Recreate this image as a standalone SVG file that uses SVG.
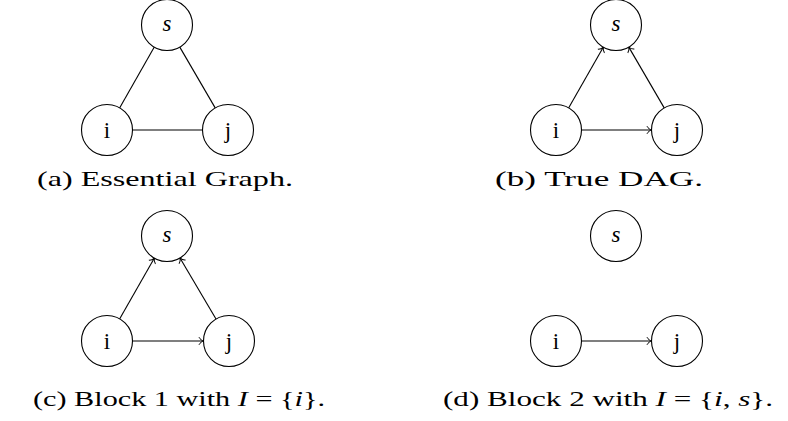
<svg xmlns="http://www.w3.org/2000/svg" width="788" height="421" viewBox="0 0 788 421">
<style>
.n{fill:#fff;stroke:#000;stroke-width:1.1}
.e{fill:none;stroke:#000;stroke-width:1.1}
.a{marker-end:url(#arr)}
.t{font-family:"Liberation Serif","DejaVu Serif",serif;font-size:23px;fill:#000;text-anchor:middle}
.it{font-style:italic}
.c{font-family:"Liberation Serif","DejaVu Serif",serif;font-size:22px;fill:#000}
</style>
<defs>
<marker id="arr" markerWidth="10" markerHeight="10" viewBox="-6 -5 8 10" refX="0" refY="0" orient="auto" markerUnits="userSpaceOnUse">
<path d="M-4.5,-3.8 C-3.5,-1.6 -1.2,-0.4 0,0 C-1.2,0.4 -3.5,1.6 -4.5,3.8" fill="none" stroke="#000" stroke-width="1"/>
</marker>
</defs>
<g id="connectors">
<line class="e" x1="154.3" y1="47.1" x2="119.6" y2="107.9"/>
<line class="e" x1="179.8" y1="47.1" x2="215.2" y2="107.9"/>
<line class="e" x1="132.5" y1="130" x2="202.5" y2="130"/>
<line class="e a" x1="568.6" y1="107.9" x2="603.4" y2="47.1"/>
<line class="e a" x1="664.2" y1="107.9" x2="628.8" y2="47.1"/>
<line class="e a" x1="581.5" y1="130" x2="651.5" y2="130"/>
<line class="e a" x1="119.6" y1="318.9" x2="154.4" y2="258.1"/>
<line class="e a" x1="216" y1="319" x2="180" y2="258"/>
<line class="e a" x1="132.5" y1="341" x2="203.5" y2="341"/>
<line class="e a" x1="581.5" y1="341" x2="651.5" y2="341"/>
</g>
<g id="a_s"><circle class="n" cx="167" cy="25" r="25.5"/><text class="t it" x="167" y="31">s</text></g>
<g id="a_i"><circle class="n" cx="107" cy="130" r="25.5"/><text class="t" x="107" y="138">i</text></g>
<g id="a_j"><circle class="n" cx="228" cy="130" r="25.5"/><text class="t" x="228" y="138">j</text></g>
<g id="b_s"><circle class="n" cx="616" cy="25" r="25.5"/><text class="t it" x="616" y="31">s</text></g>
<g id="b_i"><circle class="n" cx="556" cy="130" r="25.5"/><text class="t" x="556" y="138">i</text></g>
<g id="b_j"><circle class="n" cx="677" cy="130" r="25.5"/><text class="t" x="677" y="138">j</text></g>
<g id="c_s"><circle class="n" cx="167" cy="236" r="25.5"/><text class="t it" x="167" y="242">s</text></g>
<g id="c_i"><circle class="n" cx="107" cy="341" r="25.5"/><text class="t" x="107" y="349">i</text></g>
<g id="c_j"><circle class="n" cx="229" cy="341" r="25.5"/><text class="t" x="229" y="349">j</text></g>
<g id="d_s"><circle class="n" cx="616" cy="236" r="25.5"/><text class="t it" x="616" y="242">s</text></g>
<g id="d_i"><circle class="n" cx="556" cy="341" r="25.5"/><text class="t" x="556" y="349">i</text></g>
<g id="d_j"><circle class="n" cx="677" cy="341" r="25.5"/><text class="t" x="677" y="349">j</text></g>
<g id="captions">
<text class="c" x="37" y="186" textLength="256" lengthAdjust="spacingAndGlyphs">(a) Essential Graph.</text>
<text class="c" x="495" y="186" textLength="208" lengthAdjust="spacingAndGlyphs">(b) True DAG.</text>
<text class="c" x="33" y="406" textLength="292" lengthAdjust="spacingAndGlyphs">(c) Block 1 with <tspan class="it">I</tspan> = {<tspan class="it">i</tspan>}.</text>
<text class="c" x="443" y="406" textLength="330" lengthAdjust="spacingAndGlyphs">(d) Block 2 with <tspan class="it">I</tspan> = {<tspan class="it">i</tspan>, <tspan class="it">s</tspan>}.</text>
</g>
</svg>
